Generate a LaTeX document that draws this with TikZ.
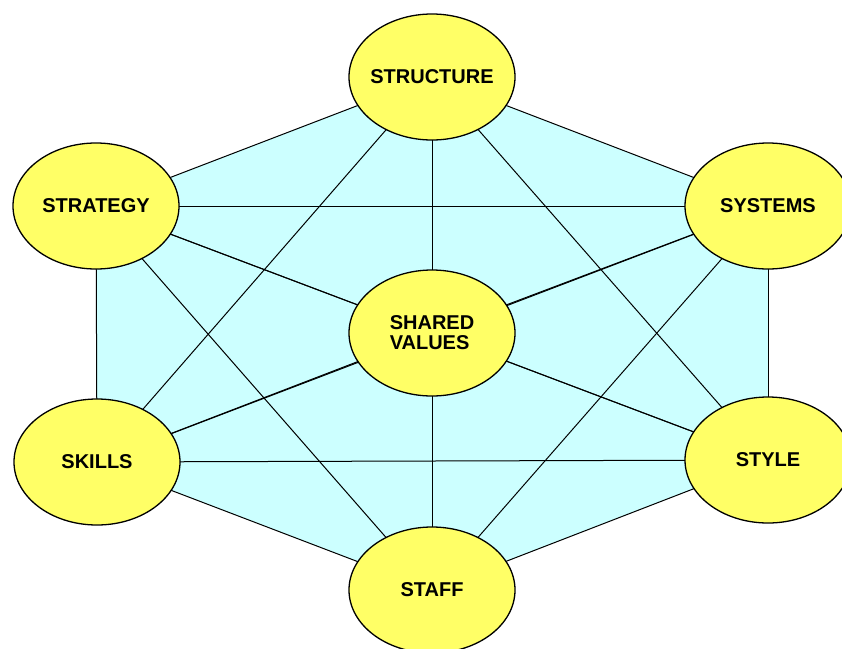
\documentclass[tikz,border=0pt]{standalone}
\usepackage{fontspec}
\setsansfont{Liberation Sans}
\usetikzlibrary{shapes.geometric,backgrounds}
\definecolor{bubble}{HTML}{FFFF66}
\definecolor{hexfill}{HTML}{CCFFFF}
\tikzstyle{factor}=[ellipse, draw, line width=1.3pt, fill=bubble, minimum width=166pt, minimum height=126pt, inner xsep=-8pt, inner ysep=0pt, align=left, font=\sffamily\bfseries\fontsize{20}{20}\selectfont]
\tikzstyle{link}=[draw, black, line width=1pt]

\begin{document}
\begin{tikzpicture}[x=1pt, y=-1pt]
\useasboundingbox (0,0) rectangle (842,648);
% Factors
    \node[factor] (structure) at (432,77) {STRUCTURE};
    \node[factor] (strategy) at (96,206) {STRATEGY};
    \node[factor] (systems) at (768,206) {SYSTEMS};
    \node[factor] (values) at (432,333) {SHARED\\VALUES};
    \node[factor] (skills) at (97,462) {SKILLS};
    \node[factor] (style) at (768,460) {STYLE};
    \node[factor] (staff) at (432,590) {STAFF};
\begin{pgfonlayer}{background}
%Hexagon
    \fill[hexfill] (structure.center) -- (systems.center) -- (style.center)
        -- (staff.center) -- (skills.center) -- (strategy.center) -- cycle;
%Every factor linked to every other
    \foreach \a/\b in {structure/strategy, structure/systems, structure/values,
        structure/skills, structure/style, structure/staff,
        strategy/systems, strategy/values, strategy/skills, strategy/style, strategy/staff,
        systems/values, systems/skills, systems/style, systems/staff,
        values/skills, values/style, values/staff,
        skills/style, skills/staff, style/staff}
        \draw[link] (\a.center) -- (\b.center);
\end{pgfonlayer}
\end{tikzpicture}
\end{document}
